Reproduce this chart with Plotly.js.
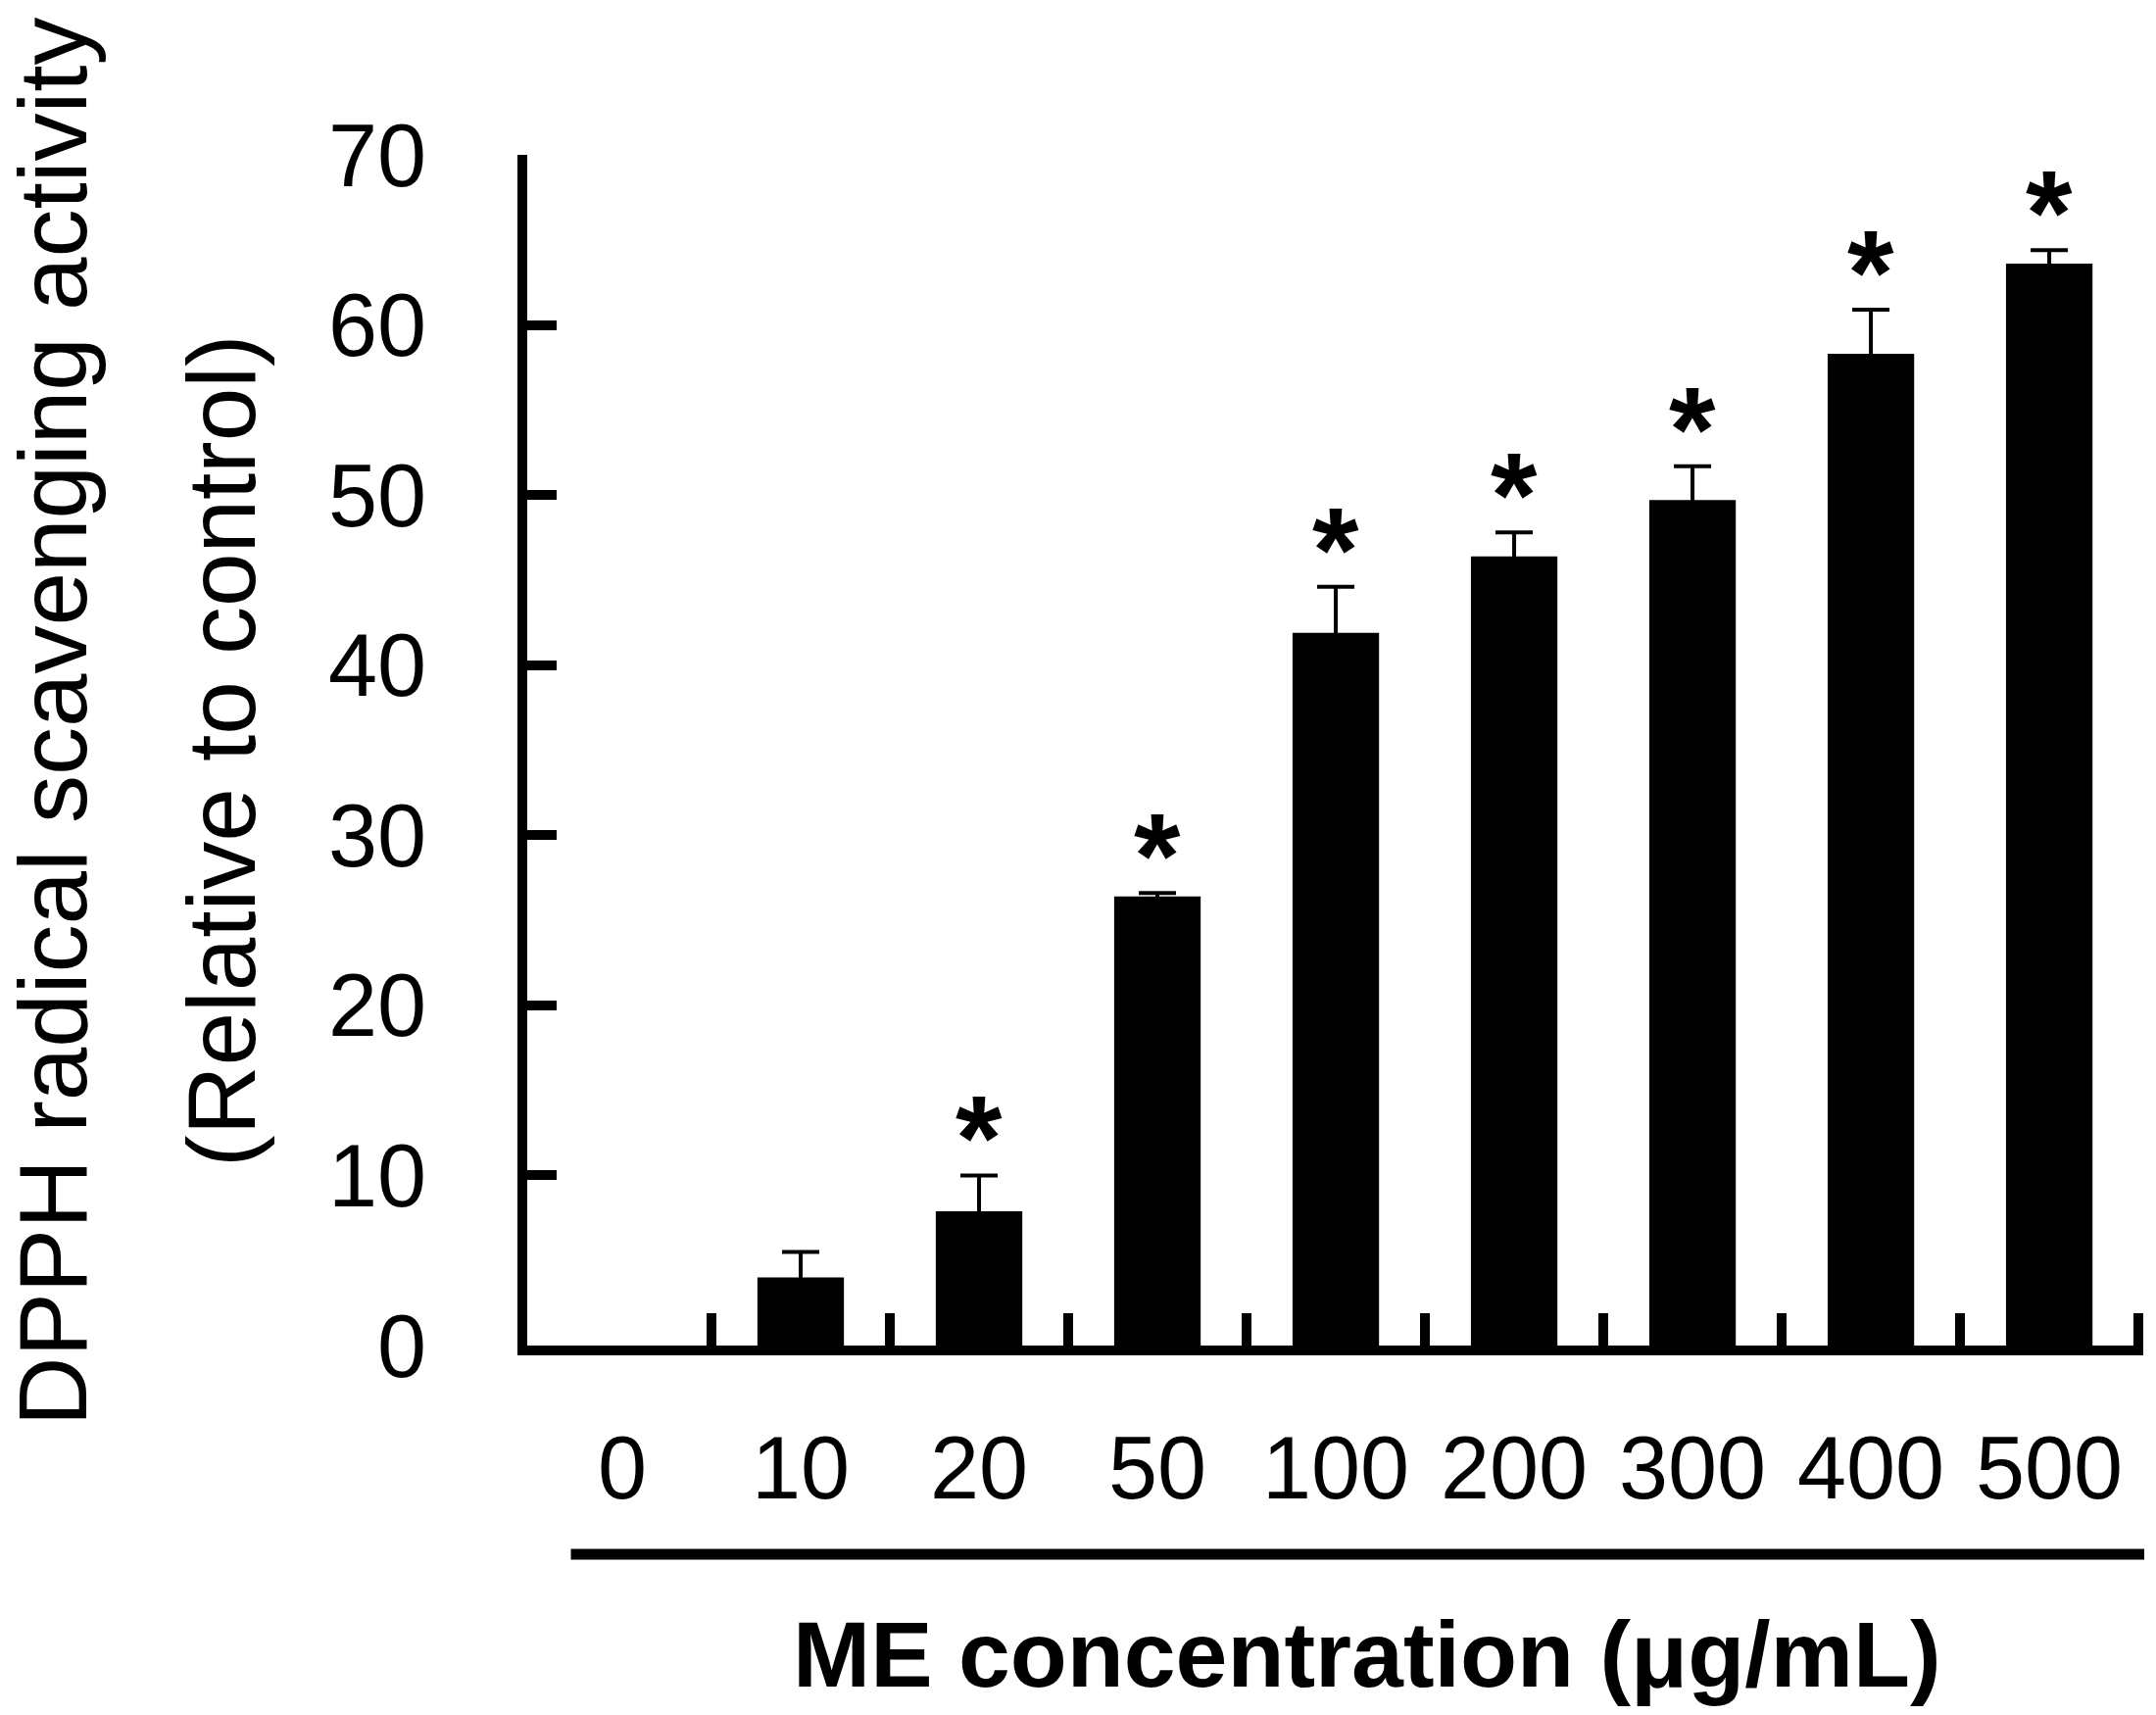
<!DOCTYPE html>
<html>
<head>
<meta charset="utf-8">
<script src="https://cdn.plot.ly/plotly-3.0.1.min.js"></script>
<style>
  html, body { margin: 0; padding: 0; background: #ffffff; }
  #chart { width: 2200px; height: 1750px; }
</style>
</head>
<body>
<div id="chart"></div>
<script>
// ME concentration (ug/mL) categories
const concentrations = ['0', '10', '20', '50', '100', '200', '300', '400', '500'];
// DPPH radical scavenging activity (relative to control)
const activity = [0, 4.0, 7.9, 26.4, 41.9, 46.4, 49.7, 58.3, 63.6];
// upper error (SD); none shown for the control
const activityErr = [null, 1.5, 2.1, 0.2, 2.7, 1.4, 2.0, 2.6, 0.8];
// significance markers
const significant = [false, false, true, true, true, true, true, true, true];
const yTicks = [0, 10, 20, 30, 40, 50, 60, 70];

const FONT = 'Liberation Sans, Arial, sans-serif';
const positions = concentrations.map((_, i) => i);
const boundaries = concentrations.slice(1).map((_, i) => i + 0.5).concat([concentrations.length - 0.5]);

const traces = [{
  type: 'bar',
  x: positions,
  y: activity,
  width: 0.485,
  marker: { color: '#000000', line: { width: 0 } },
  error_y: {
    type: 'data',
    symmetric: true,
    // null would count as 0 and draw a stray cap, NaN skips the bar
    array: activityErr.map(e => (e === null ? NaN : e)),
    color: '#000000',
    thickness: 4,
    width: 19
  },
  hoverinfo: 'skip'
}];

// asterisks above significant bars
const annotations = [];
significant.forEach((s, i) => {
  if (!s) return;
  annotations.push({
    x: positions[i],
    y: activity[i] + (activityErr[i] || 0),
    xref: 'x',
    yref: 'y',
    text: '<b>*</b>',
    showarrow: false,
    yanchor: 'middle',
    yshift: 38,
    font: { family: FONT, size: 122, color: '#000000' }
  });
});

// two-line y title, drawn as rotated annotations for line spacing control
annotations.push({
  xref: 'paper', yref: 'paper',
  x: -0.2935, y: 0.524,
  text: 'DPPH radical scavenging activity',
  textangle: -90,
  showarrow: false,
  xanchor: 'center', yanchor: 'middle',
  font: { family: FONT, size: 98, color: '#000000' }
});
annotations.push({
  xref: 'paper', yref: 'paper',
  x: -0.1892, y: 0.4996,
  text: '(Relative to control)',
  textangle: -90,
  showarrow: false,
  xanchor: 'center', yanchor: 'middle',
  font: { family: FONT, size: 98, color: '#000000' }
});
// x title
annotations.push({
  xref: 'paper', yref: 'paper',
  x: 0.52, y: -0.259,
  text: '<b>ME concentration (μg/mL)</b>',
  showarrow: false,
  xanchor: 'center', yanchor: 'middle',
  font: { family: FONT, size: 95, color: '#000000' }
});

const layout = {
  width: 2200,
  height: 1750,
  margin: { l: 538, r: 13, t: 158, b: 377 },
  paper_bgcolor: '#ffffff',
  plot_bgcolor: '#ffffff',
  showlegend: false,
  font: { family: FONT, size: 90, color: '#000000' },
  xaxis: {
    type: 'linear',
    range: [-0.533, 8.527],
    tickmode: 'array',
    tickvals: positions,
    ticktext: concentrations,
    ticks: '',
    ticklabelstandoff: 38,
    tickfont: { family: FONT, size: 90, color: '#000000' },
    minor: {
      tickmode: 'array',
      tickvals: boundaries,
      ticks: 'inside',
      ticklen: 33,
      tickwidth: 10,
      tickcolor: '#000000',
      showgrid: false
    },
    showline: true,
    linewidth: 10,
    linecolor: '#000000',
    showgrid: false,
    zeroline: false,
    fixedrange: true
  },
  yaxis: {
    range: [0, 70],
    tickmode: 'array',
    tickvals: yTicks,
    ticks: 'inside',
    ticklen: 30,
    tickwidth: 10,
    tickcolor: '#000000',
    ticklabelstandoff: 75,
    tickfont: { family: FONT, size: 90, color: '#000000' },
    showline: true,
    linewidth: 10,
    linecolor: '#000000',
    showgrid: false,
    zeroline: false,
    fixedrange: true
  },
  shapes: [{
    // rule between the dose labels and the axis title
    type: 'line',
    xref: 'paper', yref: 'paper',
    x0: 0.027, x1: 1.0006,
    y0: -0.1753, y1: -0.1753,
    line: { color: '#000000', width: 11 }
  }],
  annotations: annotations
};

Plotly.newPlot('chart', traces, layout, { displayModeBar: false, staticPlot: true });
</script>
</body>
</html>
